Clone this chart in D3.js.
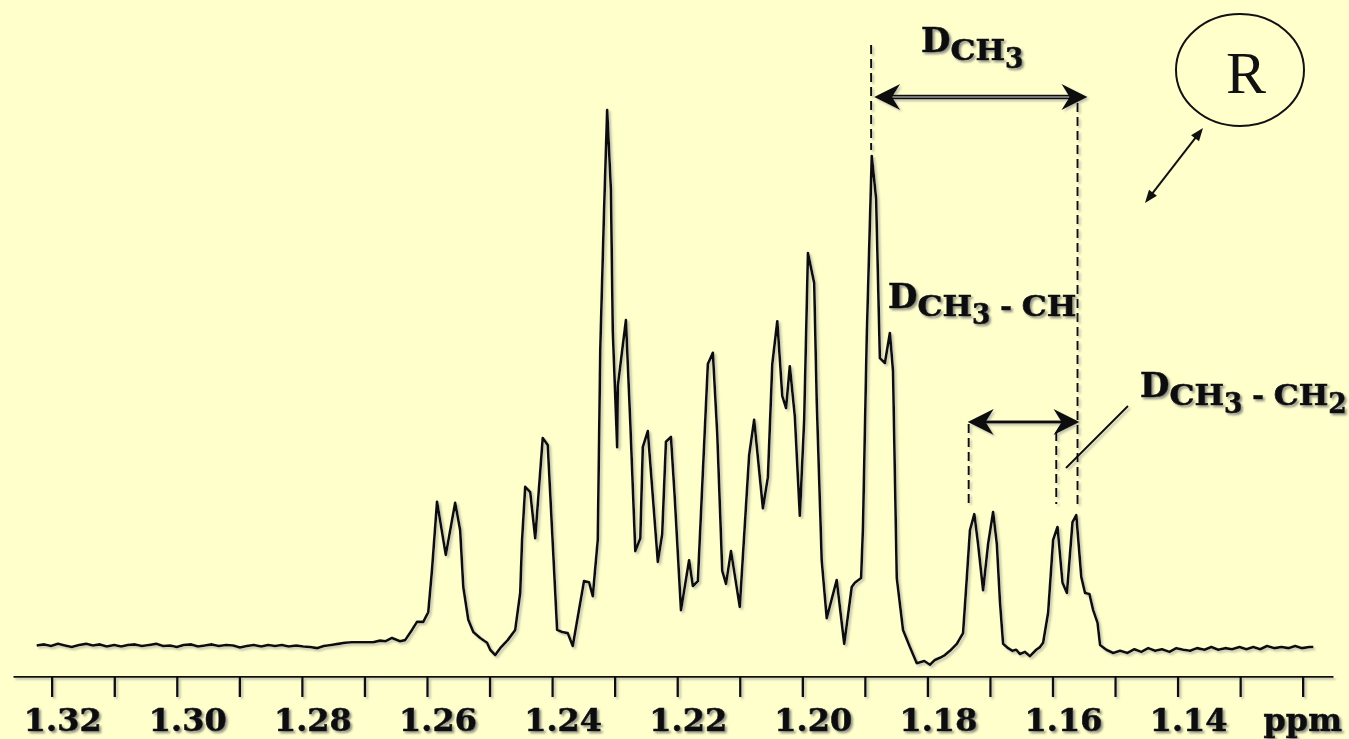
<!DOCTYPE html>
<html>
<head>
<meta charset="utf-8">
<script src="https://cdn.jsdelivr.net/npm/d3@7/dist/d3.min.js"></script>
<style>
  html, body { margin: 0; padding: 0; background: #ffffcc; }
  svg { display: block; }
</style>
</head>
<body>
<svg id="chart" width="1349" height="739"></svg>
<script>
// 1H NMR spectrum, methyl region (ppm, relative intensity; tallest line = 100)
const shiftPpm = [
  1.3224, 1.3212, 1.3201, 1.3190, 1.3179, 1.3168, 1.3156, 1.3145, 1.3134, 1.3123,
  1.3112, 1.3100, 1.3089, 1.3078, 1.3067, 1.3056, 1.3044, 1.3033, 1.3022, 1.3011,
  1.3000, 1.2989, 1.2977, 1.2966, 1.2955, 1.2944, 1.2933, 1.2921, 1.2910, 1.2899,
  1.2888, 1.2877, 1.2865, 1.2854, 1.2843, 1.2832, 1.2821, 1.2809, 1.2798, 1.2787,
  1.2776, 1.2765, 1.2753, 1.2742, 1.2731, 1.2720, 1.2709, 1.2698, 1.2686, 1.2675,
  1.2666, 1.2656, 1.2643, 1.2635, 1.2624, 1.2616, 1.2606, 1.2598, 1.2592, 1.2584,
  1.2570, 1.2555, 1.2547, 1.2542, 1.2534, 1.2526, 1.2515, 1.2504, 1.2499, 1.2491,
  1.2483, 1.2471, 1.2459, 1.2451, 1.2448, 1.2443, 1.2435, 1.2427, 1.2415, 1.2407,
  1.2399, 1.2392, 1.2384, 1.2375, 1.2367, 1.2349, 1.2341, 1.2335, 1.2327, 1.2323,
  1.2317, 1.2312, 1.2306, 1.2303, 1.2296, 1.2295, 1.2282, 1.2275, 1.2267, 1.2259,
  1.2255, 1.2247, 1.2231, 1.2224, 1.2218, 1.2210, 1.2204, 1.2194, 1.2181, 1.2175,
  1.2167, 1.2151, 1.2143, 1.2136, 1.2128, 1.2122, 1.2114, 1.2100, 1.2085, 1.2077,
  1.2063, 1.2055, 1.2048, 1.2040, 1.2032, 1.2026, 1.2020, 1.2012, 1.2004, 1.1997,
  1.1991, 1.1981, 1.1977, 1.1969, 1.1961, 1.1945, 1.1933, 1.1921, 1.1916, 1.1906,
  1.1903, 1.1897, 1.1889, 1.1882, 1.1876, 1.1868, 1.1860, 1.1855, 1.1849, 1.1839,
  1.1828, 1.1817, 1.1805, 1.1796, 1.1788, 1.1780, 1.1772, 1.1764, 1.1753, 1.1743,
  1.1737, 1.1732, 1.1725, 1.1719, 1.1711, 1.1703, 1.1695, 1.1689, 1.1684, 1.1679,
  1.1671, 1.1664, 1.1658, 1.1652, 1.1644, 1.1636, 1.1626, 1.1620, 1.1615, 1.1607,
  1.1599, 1.1592, 1.1584, 1.1577, 1.1568, 1.1562, 1.1554, 1.1548, 1.1541, 1.1535,
  1.1528, 1.1524, 1.1514, 1.1503, 1.1492, 1.1480, 1.1469, 1.1458, 1.1447, 1.1436,
  1.1425, 1.1413, 1.1402, 1.1391, 1.1380, 1.1369, 1.1357, 1.1346, 1.1335, 1.1324,
  1.1313, 1.1301, 1.1290, 1.1279, 1.1268, 1.1257, 1.1245, 1.1234, 1.1223, 1.1212,
  1.1201, 1.1189, 1.1183
];
const intensity = [
   0.1,  0.3,  0.0,  0.4,  0.1, -0.2,  0.2,  0.4,  0.1,  0.3,
  -0.1,  0.2, -0.1,  0.2,  0.3,  0.0,  0.2,  0.4,  0.0,  0.1,
  -0.2,  0.2,  0.3, -0.1,  0.1,  0.3,  0.0,  0.2,  0.1, -0.3,
   0.0,  0.2, -0.1,  0.2,  0.0,  0.2, -0.1,  0.1, -0.1, -0.2,
  -0.4,  0.0,  0.2,  0.4,  0.6,  0.7,  0.7,  0.7,  0.7,  1.0,
   0.9,  1.5,  0.9,  1.1,  3.0,  4.5,  4.5,  6.3, 14.2, 26.9,
  17.0, 26.7, 21.6, 11.0,  4.9,  2.6,  1.5,  0.6, -0.7, -1.7,
  -0.4,  1.1,  3.0,  9.9, 19.8, 29.7, 28.7, 20.1, 38.8, 37.5,
  19.2,  3.0,  2.6,  2.4,  0.0, 12.1, 11.9,  9.3, 19.8, 55.4,
  81.0, 100.0, 85.1, 58.8, 37.1, 48.5, 60.8, 41.6, 17.7, 20.1,
  37.1, 40.1, 15.7, 20.9, 38.1, 39.0, 27.8,  6.7, 16.0, 11.2,
  12.1, 52.6, 54.7, 39.6, 14.0, 11.6, 17.7,  7.3, 35.6, 42.2,
  25.7, 31.5, 52.6, 60.6, 46.6, 44.4, 52.2, 42.9, 24.3, 42.2,
  73.3, 67.7, 45.9, 16.0,  5.2, 12.3,  0.4, 11.0, 11.8, 12.7,
  22.2, 57.6, 91.4, 83.4, 53.7, 52.8, 58.4, 51.3, 12.7,  3.0,
  -0.2, -3.2, -2.8, -3.5, -2.6, -2.2, -1.7, -0.9,  0.4,  2.4,
  12.7, 21.6, 24.6, 19.0, 10.4, 19.0, 25.0, 19.0,  8.2,  0.4,
  -0.4, -0.9, -0.7, -1.5, -1.1, -1.9, -0.7, -0.2,  0.6,  6.2,
  19.8, 22.2, 11.8,  9.9, 23.1, 24.4, 12.9,  9.9,  9.7,  6.7,
   4.3,  0.2, -0.7, -1.3, -0.9, -1.3, -0.6, -1.1, -0.4, -0.9,
  -0.6, -1.1, -0.4, -0.7, -0.9, -0.4, -0.7, -0.2, -0.7, -0.4,
  -0.6, -0.2, -0.6, -0.2, -0.6,  0.0, -0.4, -0.2, -0.4,  0.0,
  -0.4, -0.2, -0.2
];

// axis ticks every 0.01 ppm, labelled every 0.02 ppm; the unit sits on the last tick
const tickValues = [1.32, 1.31, 1.30, 1.29, 1.28, 1.27, 1.26, 1.25, 1.24, 1.23, 1.22,
                    1.21, 1.20, 1.19, 1.18, 1.17, 1.16, 1.15, 1.14, 1.13, 1.12];
const tickLabels = ["1.32", "", "1.30", "", "1.28", "", "1.26", "", "1.24", "", "1.22",
                    "", "1.20", "", "1.18", "", "1.16", "", "1.14", "", "ppm"];

// coupling markers (ppm): CH3 line, its partner, and the CH3-CH2 doublet lines
const markerPpm = { ch3: 1.1890, partner: 1.1560, dLeft: 1.1734, dRight: 1.1594 };

const svg = d3.select("#chart");
const W = 1349, H = 739;

const defs = svg.append("defs");
function shadowFilter(id, dx, dy, blur, color, op) {
  const f = defs.append("filter").attr("id", id)
    .attr("filterUnits", "userSpaceOnUse")
    .attr("x", 0).attr("y", 0).attr("width", W).attr("height", H);
  f.append("feGaussianBlur").attr("in", "SourceAlpha").attr("stdDeviation", blur).attr("result", "b");
  f.append("feOffset").attr("in", "b").attr("dx", dx).attr("dy", dy).attr("result", "o");
  f.append("feFlood").attr("flood-color", color).attr("flood-opacity", op).attr("result", "c");
  f.append("feComposite").attr("in", "c").attr("in2", "o").attr("operator", "in").attr("result", "s");
  const m = f.append("feMerge");
  m.append("feMergeNode").attr("in", "s");
  m.append("feMergeNode").attr("in", "SourceGraphic");
}
shadowFilter("textShadow", 2, 2, 1, "#777", 0.8);
shadowFilter("lineShadow", 1.5, 1.5, 0.8, "#999", 0.6);

svg.append("rect").attr("width", W).attr("height", H).attr("fill", "#ffffcc");

const x = d3.scaleLinear().domain([1.32619, 1.11516]).range([13, 1333]);
const y = d3.scaleLinear().domain([0, 100]).range([646, 110]);

// ---- axis ----
const axisY = 676;
const axis = d3.axisBottom(x)
  .tickValues(tickValues)
  .tickSize(21)
  .tickSizeOuter(0)
  .tickFormat((d, i) => tickLabels[i]);

const gAxis = svg.append("g")
  .attr("transform", `translate(0,${axisY})`)
  .attr("filter", "url(#lineShadow)")
  .call(axis);
gAxis.select(".domain").attr("stroke", "#111").attr("stroke-width", 2.4);
gAxis.selectAll(".tick line").attr("stroke", "#111").attr("stroke-width", 2.4);
gAxis.selectAll(".tick text").remove();

// tick labels drawn separately so they can carry the text shadow
const gLab = svg.append("g").attr("filter", "url(#textShadow)");
tickValues.forEach((v, i) => {
  if (!tickLabels[i]) return;
  const isUnit = tickLabels[i] === "ppm";
  gLab.append("text")
    .attr("x", x(v) + (isUnit ? 0 : 11))
    .attr("y", axisY + 55)
    .attr("text-anchor", "middle")
    .attr("font-family", "DejaVu Serif")
    .attr("font-weight", "bold")
    .attr("font-size", 32)
    .attr("fill", "#111")
    .attr("stroke", "#111")
    .attr("stroke-width", 0.6)
    .text(tickLabels[i]);
});

// ---- spectrum ----
const spectrum = shiftPpm.map((p, i) => ({ ppm: p, v: intensity[i] }));
const line = d3.line().x(d => x(d.ppm)).y(d => y(d.v));
svg.append("path")
  .datum(spectrum)
  .attr("d", line)
  .attr("fill", "none")
  .attr("stroke", "#111")
  .attr("stroke-width", 2.6)
  .attr("stroke-linejoin", "round")
  .attr("filter", "url(#lineShadow)");

// ---- annotations ----
const gAnn = svg.append("g").attr("filter", "url(#lineShadow)");

function dashed(ppm, y0, y1) {
  gAnn.append("line")
    .attr("x1", x(ppm)).attr("x2", x(ppm))
    .attr("y1", y0).attr("y2", y1)
    .attr("stroke", "#111").attr("stroke-width", 2)
    .attr("stroke-dasharray", "9,5");
}
dashed(markerPpm.ch3, 45, 150);
dashed(markerPpm.partner, 103, 508);
dashed(markerPpm.dLeft, 424, 504);
dashed(markerPpm.dRight, 432, 504);

function barbHead(g, tx, ty, dir) {
  g.append("path")
    .attr("d", `M${tx},${ty} L${tx - dir * 26},${ty - 13} L${tx - dir * 18},${ty} L${tx - dir * 26},${ty + 13} Z`)
    .attr("fill", "#111");
}
function hArrow(xa, xb, yy, width, core) {
  gAnn.append("line").attr("x1", xa + 15).attr("x2", xb - 15).attr("y1", yy).attr("y2", yy)
    .attr("stroke", "#111").attr("stroke-width", width);
  if (core) {
    gAnn.append("line").attr("x1", xa + 18).attr("x2", xb - 18).attr("y1", yy).attr("y2", yy)
      .attr("stroke", "#999").attr("stroke-width", 1.4);
  }
  barbHead(gAnn, xa, yy, -1);
  barbHead(gAnn, xb, yy, 1);
}
hArrow(x(markerPpm.ch3) + 3, x(markerPpm.partner) + 10, 97, 4.6, true);
hArrow(x(markerPpm.dLeft) - 1, x(markerPpm.partner) + 2, 422, 3.2, false);

// leader from the CH3-CH2 label down to the doublet
gAnn.append("line")
  .attr("x1", 1128).attr("y1", 406).attr("x2", 1066).attr("y2", 468)
  .attr("stroke", "#111").attr("stroke-width", 2);

// labels with shrinking subscripts
function richLabel(x0, baseY, parts) {
  const g = svg.append("g").attr("filter", "url(#textShadow)");
  let cx = x0;
  parts.forEach(p => {
    const t = g.append("text")
      .attr("font-family", "DejaVu Serif")
      .attr("font-weight", "bold")
      .attr("font-size", p.size)
      .attr("fill", "#111")
      .attr("stroke", "#111")
      .attr("stroke-width", 0.6)
      .attr("transform", `translate(${cx},${baseY + p.dy}) scale(${p.sx},1)`)
      .text(p.t);
    cx += t.node().getComputedTextLength() * p.sx;
  });
}
const D = { t: "D", size: 34, dy: 0, sx: 1 };
const CH = { t: "CH", size: 28, dy: 8, sx: 1.12 };
const sub = s => ({ t: s, size: 28, dy: 16, sx: 0.95 });
const dash = { t: "\u00a0-\u00a0", size: 28, dy: 8, sx: 1 };

richLabel(921, 52, [D, CH, sub("3")]);
richLabel(888, 308, [D, CH, sub("3"), dash, CH]);
richLabel(1140, 397, [D, CH, sub("3"), dash, CH, sub("2")]);

// ---- R group marker ----
svg.append("ellipse")
  .attr("cx", 1240).attr("cy", 70).attr("rx", 64).attr("ry", 56)
  .attr("fill", "none").attr("stroke", "#111").attr("stroke-width", 2);
svg.append("text")
  .attr("x", 1246).attr("y", 93)
  .attr("text-anchor", "middle")
  .attr("font-family", "Liberation Serif")
  .attr("font-size", 60)
  .attr("fill", "#111")
  .text("R");

function smallHead(tx, ty, ux, uy) {
  const L = 13, w = 5;
  const bx = tx - ux * L, by = ty - uy * L;
  svg.append("path")
    .attr("d", `M${tx},${ty} L${bx - uy * w},${by + ux * w} L${bx + uy * w},${by - ux * w} Z`)
    .attr("fill", "#111");
}
{
  const ax = 1203, ay = 128, bx = 1145, by = 203;
  const len = Math.hypot(bx - ax, by - ay);
  const ux = (bx - ax) / len, uy = (by - ay) / len;
  svg.append("line")
    .attr("x1", ax + ux * 8).attr("y1", ay + uy * 8)
    .attr("x2", bx - ux * 8).attr("y2", by - uy * 8)
    .attr("stroke", "#111").attr("stroke-width", 2);
  smallHead(bx, by, ux, uy);
  smallHead(ax, ay, -ux, -uy);
}
</script>
</body>
</html>
